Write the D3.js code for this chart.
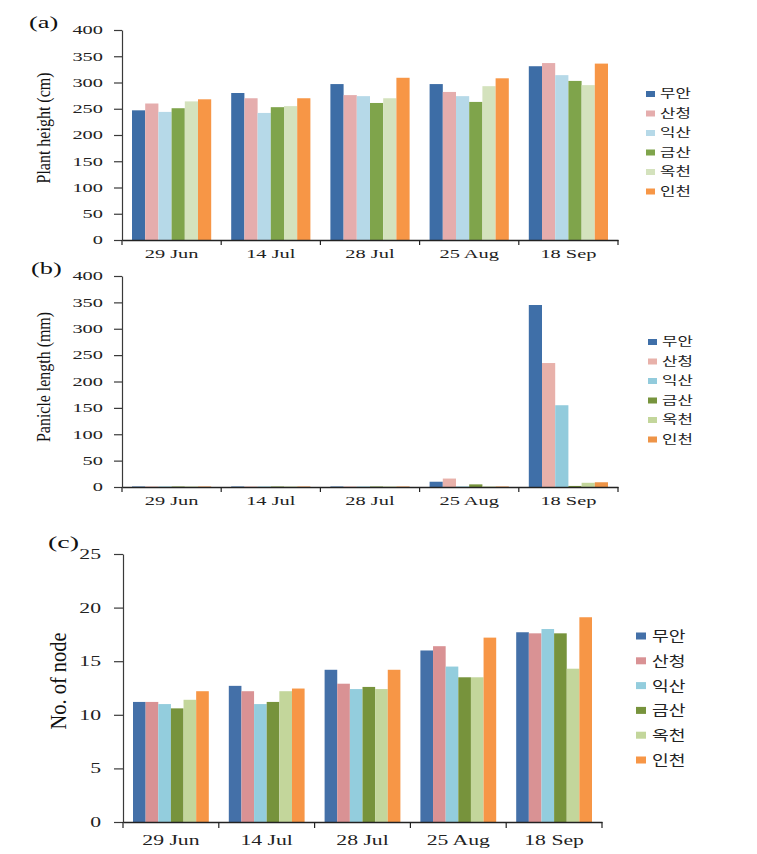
<!DOCTYPE html>
<html>
<head>
<meta charset="utf-8">
<script src="https://cdn.jsdelivr.net/npm/d3@7"></script>
<style>
  html, body { margin: 0; padding: 0; background: #fff; }
  svg { display: block; }
</style>
</head>
<body>
<svg id="chart" width="757" height="854"></svg>
<script>
// ---------- data ----------
const dates = ["29 Jun", "14 Jul", "28 Jul", "25 Aug", "18 Sep"];
const cultivars = ["무안", "산청", "익산", "금산", "옥천", "인천"];

// (a) Plant height (cm), one array per cultivar, in date order
const heightMuan    = [247, 280, 297, 297, 331];
const heightSancheong = [260, 270, 276, 282, 337];
const heightIksan   = [244, 242, 274, 274, 314];
const heightGeumsan = [251, 253, 261, 263, 303];
const heightOkcheon = [264, 255, 270, 293, 295];
const heightIncheon = [268, 270, 309, 308, 336];

// (b) Panicle length (mm)
const panicleMuan    = [1, 1, 1, 10, 345];
const panicleSancheong = [1, 1, 1, 16, 235];
const panicleIksan   = [1, 1, 1, 1, 155];
const panicleGeumsan = [1, 1, 1, 5, 2];
const panicleOkcheon = [1, 1, 1, 1, 8];
const panicleIncheon = [1, 1, 1, 1, 9];

// (c) No. of node
const nodeMuan    = [11.2, 12.7, 14.2, 16.0, 17.7];
const nodeSancheong = [11.2, 12.2, 12.9, 16.4, 17.6];
const nodeIksan   = [11.0, 11.0, 12.4, 14.5, 18.0];
const nodeGeumsan = [10.6, 11.2, 12.6, 13.5, 17.6];
const nodeOkcheon = [11.4, 12.2, 12.4, 13.5, 14.3];
const nodeIncheon = [12.2, 12.45, 14.2, 17.2, 19.1];

const ticksA = [0, 50, 100, 150, 200, 250, 300, 350, 400];
const ticksB = [0, 50, 100, 150, 200, 250, 300, 350, 400];
const ticksC = [0, 5, 10, 15, 20, 25];

const colorsA = ["#3d6da6", "#e5adad", "#b6d9e8", "#7fa44b", "#d4e2bd", "#f79646"];
const colorsB = ["#3f6fa8", "#e8b1aa", "#92cbdc", "#77943d", "#c3d69b", "#ee9447"];
const colorsC = ["#4470a8", "#d99294", "#93cddd", "#77933c", "#c3d69b", "#f79646"];

// ---------- drawing ----------
const svg = d3.select("#chart");
const serif = "'Liberation Serif', 'Times New Roman', serif";
const korean = "'Noto Sans CJK KR', 'Noto Sans', sans-serif";

function drawPanel(cfg) {
  const g = svg.append("g");
  const x = d3.scaleBand().domain(dates).range([cfg.left, cfg.right]).padding(0);
  const xi = d3.scaleBand().domain(cultivars)
    .range([cfg.groupPad, x.bandwidth() - cfg.groupPad]).padding(0);
  const y = d3.scaleLinear().domain([0, cfg.ymax]).range([cfg.bottom, cfg.top]);
  const color = d3.scaleOrdinal().domain(cultivars).range(cfg.colors);

  // bars
  const rows = dates.map((d, i) => ({
    date: d,
    vals: cultivars.map((c, j) => ({ c, v: cfg.series[j][i] }))
  }));
  const grp = g.selectAll("g.grp").data(rows).join("g")
    .attr("transform", d => `translate(${x(d.date)},0)`);
  grp.selectAll("rect").data(d => d.vals).join("rect")
    .attr("x", d => xi(d.c))
    .attr("width", xi.bandwidth())
    .attr("y", d => y(d.v))
    .attr("height", d => y(0) - y(d.v))
    .attr("fill", d => color(d.c));

  // y axis
  const yAxis = g.append("g")
    .attr("transform", `translate(${cfg.left},0)`)
    .call(d3.axisLeft(y).tickValues(cfg.ticks).tickSize(cfg.yTick)
      .tickSizeOuter(0).tickPadding(cfg.yPad).tickFormat(d3.format("d")));
  yAxis.selectAll("path, line").attr("stroke", "#3a3a3a").attr("stroke-width", 1.2);
  yAxis.selectAll("text")
    .attr("font-family", serif).attr("font-size", cfg.tickFont).attr("fill", "#222")
    .each(function () {
      const t = d3.select(this);
      const tx = +t.attr("x");
      t.attr("x", 0).attr("transform", `translate(${tx},0) scale(${cfg.stretch},1)`);
    });

  // x axis (labels)
  const xAxis = g.append("g")
    .attr("transform", `translate(0,${cfg.bottom})`)
    .call(d3.axisBottom(x).tickSize(0).tickSizeOuter(0));
  xAxis.select("path").attr("stroke", "#222").attr("stroke-width", 1.4);
  xAxis.selectAll("text")
    .attr("font-family", serif).attr("font-size", cfg.tickFont).attr("fill", "#222")
    .attr("y", cfg.xLabelY).attr("dy", 0)
    .attr("transform", `scale(${cfg.stretch},1)`);
  // category boundary ticks
  const bounds = dates.map(d => x(d)).concat([x(dates[dates.length - 1]) + x.bandwidth()]);
  g.append("g").selectAll("line").data(bounds).join("line")
    .attr("x1", d => d).attr("x2", d => d)
    .attr("y1", cfg.bottom).attr("y2", cfg.bottom + cfg.xTick)
    .attr("stroke", "#222").attr("stroke-width", 1.2);

  // y title
  g.append("text")
    .attr("transform", `translate(${cfg.titleX},${cfg.titleY}) scale(${cfg.titleStretch},1) rotate(-90)`)
    .attr("text-anchor", "middle")
    .attr("dy", "0.35em")
    .attr("textLength", cfg.titleLen)
    .attr("lengthAdjust", "spacingAndGlyphs")
    .attr("font-family", serif).attr("font-size", cfg.titleFont).attr("fill", "#111")
    .text(cfg.title);

  // panel label
  g.append("text")
    .attr("transform", `translate(${cfg.panelX},${cfg.panelY}) scale(1.65,1)`)
    .attr("font-family", serif).attr("font-size", cfg.panelFont).attr("fill", "#111")
    .text(cfg.panel);

  // legend
  const leg = g.append("g").selectAll("g").data(cultivars).join("g")
    .attr("transform", (d, i) => `translate(${cfg.legX},${cfg.legY + i * cfg.legStep})`);
  leg.append("rect")
    .attr("x", 0).attr("y", -cfg.legBoxH / 2)
    .attr("width", cfg.legBoxW).attr("height", cfg.legBoxH)
    .attr("fill", d => color(d));
  leg.append("text")
    .attr("transform", `translate(${cfg.legTextX},0) scale(${cfg.legStretch},1)`)
    .attr("dy", "0.36em")
    .attr("font-family", korean).attr("font-size", cfg.legFont).attr("fill", "#222")
    .text(d => d);
}

drawPanel({
  series: [heightMuan, heightSancheong, heightIksan, heightGeumsan, heightOkcheon, heightIncheon],
  colors: colorsA, ymax: 400, ticks: ticksA,
  left: 122, right: 618, top: 30, bottom: 240, groupPad: 10,
  yTick: 8, yPad: 11, xTick: 5, xLabelY: 18, tickFont: 12, stretch: 1.7,
  title: "Plant height (cm)", titleX: 43, titleY: 128, titleFont: 16, titleStretch: 1.2, titleLen: 111,
  panel: "(a)", panelX: 29, panelY: 28, panelFont: 16,
  legX: 646, legY: 94, legStep: 19.5, legBoxW: 9, legBoxH: 6, legTextX: 14,
  legFont: 12, legStretch: 1.4
});

drawPanel({
  series: [panicleMuan, panicleSancheong, panicleIksan, panicleGeumsan, panicleOkcheon, panicleIncheon],
  colors: colorsB, ymax: 400, ticks: ticksB,
  left: 122, right: 618, top: 276, bottom: 487, groupPad: 10,
  yTick: 8, yPad: 11, xTick: 5, xLabelY: 18, tickFont: 12, stretch: 1.7,
  title: "Panicle length (mm)", titleX: 43, titleY: 377, titleFont: 16, titleStretch: 1.2, titleLen: 130,
  panel: "(b)", panelX: 31, panelY: 274, panelFont: 16,
  legX: 648, legY: 342, legStep: 19.5, legBoxW: 9, legBoxH: 6, legTextX: 14,
  legFont: 12, legStretch: 1.4
});

drawPanel({
  series: [nodeMuan, nodeSancheong, nodeIksan, nodeGeumsan, nodeOkcheon, nodeIncheon],
  colors: colorsC, ymax: 25, ticks: ticksC,
  left: 123, right: 602, top: 554, bottom: 822, groupPad: 10,
  yTick: 9, yPad: 13, xTick: 6, xLabelY: 23, tickFont: 14, stretch: 1.55,
  title: "No. of node", titleX: 58, titleY: 681, titleFont: 20, titleStretch: 1.2, titleLen: 97,
  panel: "(c)", panelX: 48, panelY: 548, panelFont: 17,
  legX: 636, legY: 636, legStep: 24.8, legBoxW: 10, legBoxH: 7, legTextX: 16,
  legFont: 14, legStretch: 1.3
});
</script>
</body>
</html>
